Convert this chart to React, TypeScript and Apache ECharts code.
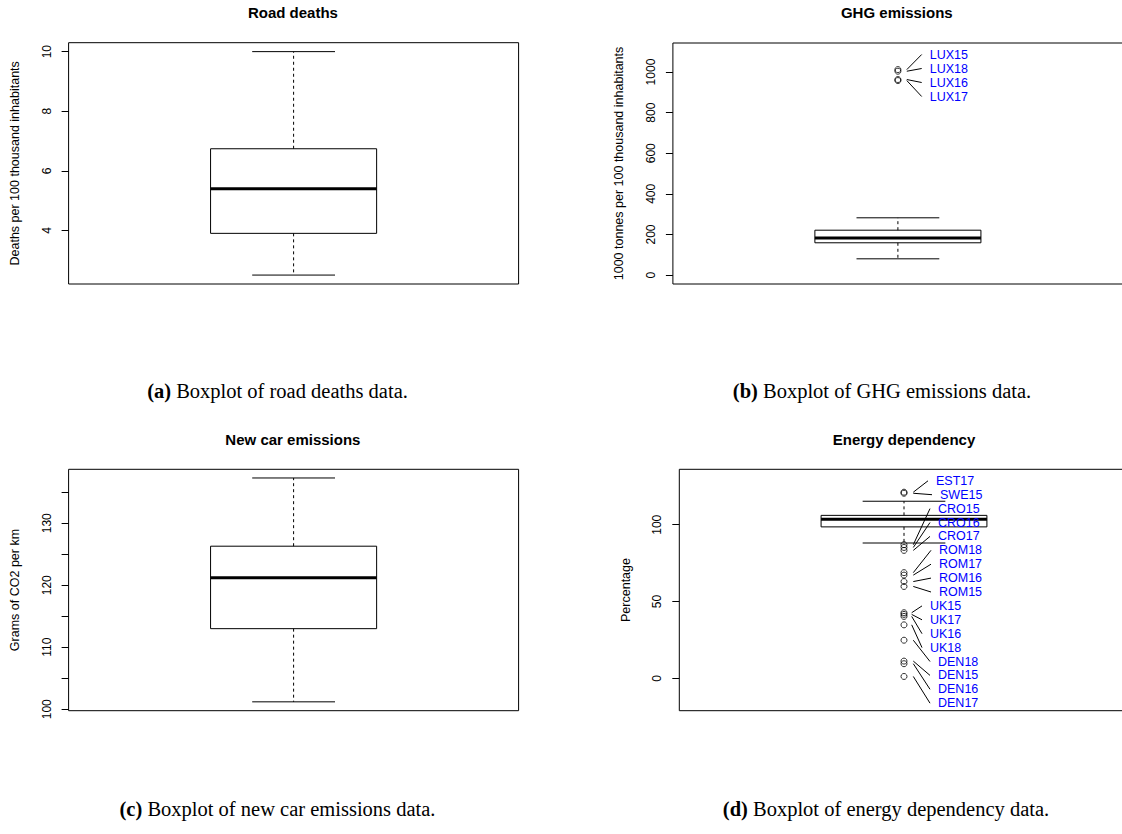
import React, { useEffect, useRef } from "react";
import * as echarts from "echarts";

// ---------- data ----------
const panelTitles = ["Road deaths", "GHG emissions", "New car emissions", "Energy dependency"];
const axisNames = [
  "Deaths per 100 thousand inhabitants",
  "1000 tonnes per 100 thousand inhabitants",
  "Grams of CO2 per km",
  "Percentage",
];
const captionTags = ["(a)", "(b)", "(c)", "(d)"];
const captionTexts = [
  " Boxplot of road deaths data.",
  " Boxplot of GHG emissions data.",
  " Boxplot of new car emissions data.",
  " Boxplot of energy dependency data.",
];

// five-number summaries: lower whisker, Q1, median, Q3, upper whisker
const roadDeathsBox = [2.5, 3.9, 5.4, 6.74, 10.0];
const ghgBox = [80, 159, 182, 221, 282];
const carEmissionsBox = [101.2, 113.0, 121.2, 126.3, 137.3];
const energyBox = [88.1, 98.6, 103.5, 106.1, 115.3];

const ghgOutlierNames = ["LUX15", "LUX18", "LUX16", "LUX17"];
const ghgOutlierValues = [1012, 1004, 963, 958];

const energyOutlierNames = [
  "EST17", "SWE15", "CRO15", "CRO16", "CRO17", "ROM18", "ROM17", "ROM16", "ROM15",
  "UK15", "UK17", "UK16", "UK18", "DEN18", "DEN15", "DEN16", "DEN17",
];
const energyOutlierValues = [
  121.2, 120.5, 87.0, 85.2, 83.3, 68.8, 67.2, 63.0, 59.8,
  42.7, 41.6, 40.3, 34.8, 24.8, 11.2, 9.5, 1.2,
];

// axis ranges and ticks
const roadDeathsRange = [2.2, 10.3];
const roadDeathsTicks = [4, 6, 8, 10];
const ghgRange = [-44, 1143];
const ghgTicks = [0, 200, 400, 600, 800, 1000];
const carRange = [99.77, 138.7];
const carTicks = [100, 105, 110, 115, 120, 125, 130, 135];
const carTickLabels = [100, 110, 120, 130];
const energyRange = [-21.1, 136.1];
const energyTicks = [0, 50, 100];

// ---------- layout / style ----------
const SANS = '"Liberation Sans", Arial, Helvetica, sans-serif';
const SERIF = '"Liberation Serif", "Times New Roman", serif';
const BOX_CENTER = 0.5;
const BOX_HALF = 0.1845;
const CAP_HALF = 0.092;

const grids = [
  { left: 68.6, top: 42.7, width: 450, height: 241.3 },
  { left: 672.9, top: 43, width: 450, height: 241 },
  { left: 68.6, top: 469.3, width: 450, height: 241.4 },
  { left: 679.3, top: 469.3, width: 449.4, height: 241.4 },
];
const titlePos = [
  [292.9, 12.5],
  [896.8, 12.5],
  [292.9, 439],
  [904, 439],
];
const captionPos = [
  [277.5, 391],
  [882, 391],
  [277.5, 809],
  [886, 809],
];

const ghgTextDx = [31.8, 31.8, 31.8, 31.8];
const ghgStartDx = [8.9, 8.9, 8.9, 8.9];
const energyTextDx = [32, 36, 34, 34, 34, 35, 35, 35, 35, 26, 26, 26, 26, 34, 34, 34, 34];
const energyStartDx = [9.3, 9.3, 9.3, 9.3, 9.3, 9.3, 9.3, 9.3, 9.3, 7.7, 7.7, 7.7, 7.7, 9.3, 9.3, 9.3, 9.3];

function boxRender(params: any, api: any) {
  const cx = api.value(0);
  const v = [1, 2, 3, 4, 5].map((i) => api.value(i));
  const pMin = api.coord([cx, v[0]]);
  const pQ1 = api.coord([cx, v[1]]);
  const pMed = api.coord([cx, v[2]]);
  const pQ3 = api.coord([cx, v[3]]);
  const pMax = api.coord([cx, v[4]]);
  const hb = api.size([BOX_HALF, 0])[0];
  const hc = api.size([CAP_HALF, 0])[0];
  const x = pMed[0];
  const solid = { stroke: "#000", lineWidth: 1, fill: "none" };
  const dashed = { stroke: "#000", lineWidth: 1, fill: "none", lineDash: [3, 3] };
  return {
    type: "group",
    children: [
      { type: "line", shape: { x1: x, y1: pQ3[1], x2: x, y2: pMax[1] }, style: dashed },
      { type: "line", shape: { x1: x, y1: pQ1[1], x2: x, y2: pMin[1] }, style: dashed },
      { type: "line", shape: { x1: x - hc, y1: pMax[1], x2: x + hc, y2: pMax[1] }, style: solid },
      { type: "line", shape: { x1: x - hc, y1: pMin[1], x2: x + hc, y2: pMin[1] }, style: solid },
      {
        type: "rect",
        shape: { x: x - hb, y: pQ3[1], width: 2 * hb, height: pQ1[1] - pQ3[1] },
        style: solid,
      },
      { type: "line", shape: { x1: x - hb, y1: pMed[1], x2: x + hb, y2: pMed[1] }, style: { stroke: "#000", lineWidth: 3 } },
    ],
  };
}

function makeLabelRender(names: string[], textDx: number[], startDx: number[], slotTop: number, slotStep: number) {
  return (params: any, api: any) => {
    const k = params.dataIndex;
    const p = api.coord([api.value(0), api.value(1)]);
    const cs = params.coordSys;
    const ly = cs.y + slotTop + k * slotStep;
    const tx = p[0] + textDx[k];
    return {
      type: "group",
      children: [
        {
          type: "line",
          shape: { x1: p[0] + startDx[k], y1: p[1], x2: tx - 8, y2: ly },
          style: { stroke: "#000", lineWidth: 1 },
        },
        {
          type: "text",
          x: tx,
          y: ly,
          style: {
            text: names[k],
            fill: "#0000ff",
            font: `12.5px ${SANS}`,
            align: "left",
            verticalAlign: "middle",
          },
        },
      ],
    };
  };
}

function yAxis(i: number, range: number[], ticks: number[], labels: number[]) {
  return {
    type: "value",
    gridIndex: i,
    min: range[0],
    max: range[1],
    name: axisNames[i],
    nameLocation: "middle",
    nameGap: 47,
    nameRotate: 90,
    nameTextStyle: { fontFamily: SANS, fontSize: 12.5, color: "#000" },
    axisLine: { show: false },
    axisTick: { show: true, inside: false, length: 7, lineStyle: { color: "#000", width: 1 }, customValues: ticks },
    axisLabel: {
      show: true,
      rotate: 90,
      margin: 16,
      fontFamily: SANS,
      fontSize: 12,
      color: "#000",
      customValues: labels,
      hideOverlap: false,
      formatter: (v: number) => String(v),
    },
    splitLine: { show: false },
  };
}

function boxSeries(i: number, box: number[]) {
  return {
    type: "custom",
    xAxisIndex: i,
    yAxisIndex: i,
    renderItem: boxRender,
    data: [[BOX_CENTER, ...box]],
    encode: { x: 0, y: [1, 2, 3, 4, 5] },
    silent: true,
    clip: false,
  };
}

function outlierSeries(i: number, values: number[]) {
  return {
    type: "scatter",
    xAxisIndex: i,
    yAxisIndex: i,
    data: values.map((v) => [BOX_CENTER, v]),
    symbol: "circle",
    symbolSize: 6,
    itemStyle: { color: "rgba(0,0,0,0)", borderColor: "#000", borderWidth: 1 },
    silent: true,
  };
}

function labelSeries(i: number, names: string[], values: number[], textDx: number[], startDx: number[], step: number) {
  return {
    type: "custom",
    xAxisIndex: i,
    yAxisIndex: i,
    renderItem: makeLabelRender(names, textDx, startDx, 11.5, step),
    data: values.map((v) => [BOX_CENTER, v]),
    encode: { x: 0, y: 1 },
    silent: true,
    clip: false,
  };
}

const option: any = {
  animation: false,
  backgroundColor: "#fff",
  grid: grids.map((g) => ({
    ...g,
    show: true,
    borderColor: "#000",
    borderWidth: 1,
    backgroundColor: "transparent",
    containLabel: false,
    outerBoundsMode: "none",
  })),
  xAxis: grids.map((_, i) => ({ type: "value", gridIndex: i, min: 0, max: 1, show: false })),
  yAxis: [
    yAxis(0, roadDeathsRange, roadDeathsTicks, roadDeathsTicks),
    yAxis(1, ghgRange, ghgTicks, ghgTicks),
    yAxis(2, carRange, carTicks, carTickLabels),
    yAxis(3, energyRange, energyTicks, energyTicks),
  ],
  series: [
    boxSeries(0, roadDeathsBox),
    boxSeries(1, ghgBox),
    boxSeries(2, carEmissionsBox),
    boxSeries(3, energyBox),
    outlierSeries(1, ghgOutlierValues),
    outlierSeries(3, energyOutlierValues),
    labelSeries(1, ghgOutlierNames, ghgOutlierValues, ghgTextDx, ghgStartDx, 14),
    labelSeries(3, energyOutlierNames, energyOutlierValues, energyTextDx, energyStartDx, 13.9),
  ],
  graphic: {
    elements: [
      ...panelTitles.map((t, i) => ({
        type: "text",
        x: titlePos[i][0],
        y: titlePos[i][1],
        silent: true,
        style: {
          text: t,
          fill: "#000",
          font: `bold 15px ${SANS}`,
          align: "center",
          verticalAlign: "middle",
        },
      })),
      ...captionTags.map((tag, i) => ({
        type: "text",
        x: captionPos[i][0],
        y: captionPos[i][1],
        silent: true,
        style: {
          text: `{b|${tag}}{n|${captionTexts[i]}}`,
          align: "center",
          verticalAlign: "middle",
          rich: {
            b: { fontFamily: SERIF, fontSize: 20.5, fontWeight: "bold", fill: "#000" },
            n: { fontFamily: SERIF, fontSize: 20.5, fontWeight: "normal", fill: "#000" },
          },
        },
      })),
    ],
  },
};

export default function App() {
  const ref = useRef<HTMLDivElement>(null);
  useEffect(() => {
    if (!ref.current) return;
    const chart = echarts.init(ref.current, null, { renderer: "svg" });
    chart.setOption(option);
    return () => chart.dispose();
  }, []);
  return (
    <div
      ref={ref}
      style={{ position: "absolute", left: 0, top: 0, width: 1122, height: 834, background: "#fff" }}
    />
  );
}
